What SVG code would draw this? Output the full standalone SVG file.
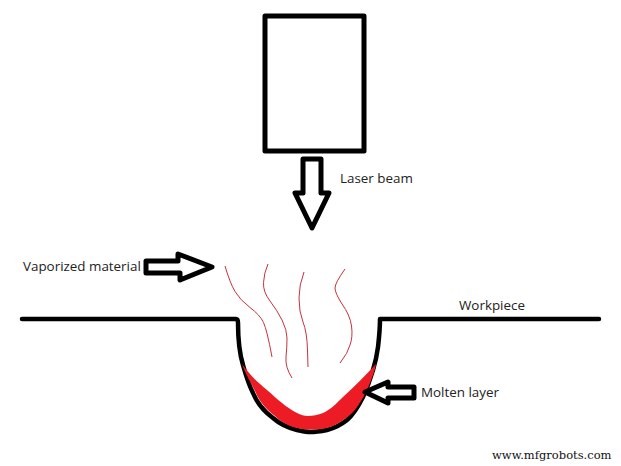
<svg xmlns="http://www.w3.org/2000/svg" width="621" height="466" viewBox="0 0 621 466">
<style>
.k{fill:none;stroke:#000;stroke-linejoin:round;stroke-linecap:round}
.a{stroke-width:5;fill:#fff}
.v{fill:none;stroke:#c8323c;stroke-width:1;stroke-linejoin:round}
.t{font-family:"Open Sans","Noto Sans",sans-serif;font-size:13.4px;fill:#222}
</style>
<rect width="621" height="466" fill="#fff"/>
<g id="laser"><rect class="k" x="265" y="16" width="99" height="135" stroke-width="5" stroke-linejoin="miter"/></g>
<g id="workpiece">
<path class="k" stroke-width="4.5" d="M22 319H236Q238 319 238 323C238 340 240 355 243 365C246 376 249 385 253 393C258 405 265 412 273 418C281 425 289 428 297 430C302 431 306 432 310 432C316 432 322 431 327 430C335 428 342 424 347 420C354 414 359 405 363 397C367 388 370 380 373 370C376 360 377 355 378 347C379 338 380 330 380 319H599"/>
<path d="M242 364C250 375 258 383 267 390C277 399 287 408 297 413C301 415 304 416 308 416C313 416 318 415 323 413C330 410 337 403 343 397C354 387 365 376 376 364C375 371 372 377 370 383C367 391 364 396 361 401C357 408 352 414 346 418C341 422 334 426 327 428C321 429 316 429.500 310 429.500C306 429.500 302 429 297 428C289 426 281 422 275 416C267 410 260 403 255 391C251 383 246 375 242 364Z" fill="#ed1c24"/>
</g>
<g id="connectors">
<path class="k a" d="M303 159H321V193H329L312 228L295 193H303Z"/>
<path class="k a" d="M146 261H178V254L212 267L180 280V273H146Z"/>
<path class="k a" d="M365 392L388 382V387H414V398H388V403Z"/>
</g>
<g id="vapor">
<path class="v" d="M225 266Q230 283 235 291.5Q240 300 250 307.5Q260 315 263.5 322.5Q267 330 272 357"/>
<path class="v" d="M268 264Q264 273 263.5 282.5Q263 292 270 301Q277 310 282 320Q287 330 287 338Q287 347 286 357Q285 367 292 378"/>
<path class="v" d="M304 272Q299 285 299 298Q299 312 303 322Q307 332 307.5 350L308 367"/>
<path class="v" d="M345 269Q335 283 335 288Q335 293 342 304Q350 315 351.5 326Q353 337 350 345Q348 353 340 363"/>
</g>
<g id="labels">
<text class="t" x="340" y="183">Laser beam</text>
<text class="t" x="23" y="271">Vaporized material</text>
<text class="t" x="459" y="310">Workpiece</text>
<text class="t" x="421" y="397">Molten layer</text>
<text x="492" y="459" font-family="'DejaVu Serif',serif" font-size="11.5" fill="#111">www.mfgrobots.com</text>
</g>
</svg>
